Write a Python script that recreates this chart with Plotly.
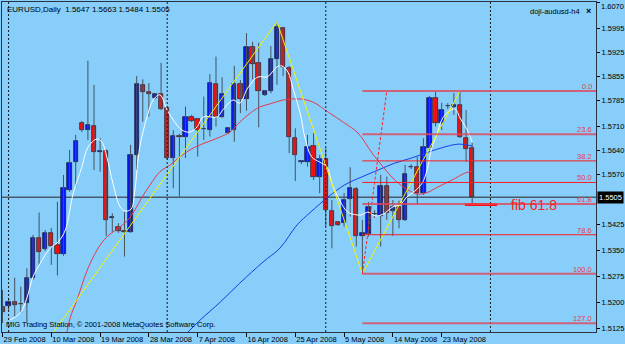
import plotly.graph_objects as go

# ---------------- data ----------------
bars = list(range(78))
opens = [1.5188, 1.5190, 1.5202, 1.5196, 1.5198, 1.5270, 1.5386, 1.5355, 1.5401, 1.5367,
         1.5340, 1.5526, 1.5606, 1.5720, 1.5700, 1.5712, 1.5637, 1.5640, 1.5446, 1.5420,
         1.5407, 1.5405, 1.5628, 1.5831, 1.5809, 1.5792, 1.5804, 1.5763, 1.5620, 1.5683,
         1.5679, 1.5739, 1.5731, 1.5703, 1.5700, 1.5833, 1.5739, 1.5692, 1.5700, 1.5833,
         1.5791, 1.5942, 1.5894, 1.5802, 1.5814, 1.5905, 1.5995, 1.5879, 1.5676, 1.5608,
         1.5608, 1.5654, 1.5563, 1.5615, 1.5466, 1.5432, 1.5430, 1.5499, 1.5530, 1.5393,
         1.5399, 1.5456, 1.5451, 1.5538, 1.5466, 1.5478, 1.5439, 1.5593, 1.5592, 1.5518,
         1.5647, 1.5792, 1.5720, 1.5769, 1.5768, 1.5773, 1.5676, 1.5647]
highs = [1.5236, 1.5213, 1.5272, 1.5246, 1.5299, 1.5396, 1.5461, 1.5410, 1.5416, 1.5492,
         1.5570, 1.5642, 1.5686, 1.5726, 1.5901, 1.5831, 1.5676, 1.5644, 1.5459, 1.5430,
         1.5463, 1.5657, 1.5857, 1.5847, 1.5836, 1.5807, 1.5895, 1.5768, 1.5700, 1.5689,
         1.5768, 1.5744, 1.5735, 1.5797, 1.5862, 1.5913, 1.5853, 1.5709, 1.5886, 1.5845,
         1.5981, 1.5956, 1.5953, 1.5816, 1.5944, 1.6014, 1.5999, 1.5886, 1.5705, 1.5613,
         1.5686, 1.5691, 1.5628, 1.5647, 1.5497, 1.5436, 1.5517, 1.5592, 1.5535, 1.5439,
         1.5491, 1.5468, 1.5570, 1.5565, 1.5497, 1.5495, 1.5599, 1.5601, 1.5622, 1.5676,
         1.5799, 1.5811, 1.5779, 1.5778, 1.5807, 1.5813, 1.5758, 1.5663]
lows = [1.5140, 1.5178, 1.5159, 1.5169, 1.5140, 1.5265, 1.5309, 1.5349, 1.5309, 1.5278,
        1.5335, 1.5521, 1.5536, 1.5694, 1.5671, 1.5584, 1.5579, 1.5393, 1.5405, 1.5402,
        1.5333, 1.5402, 1.5584, 1.5724, 1.5739, 1.5789, 1.5758, 1.5613, 1.5531, 1.5507,
        1.5619, 1.5723, 1.5623, 1.5671, 1.5681, 1.5710, 1.5736, 1.5689, 1.5666, 1.5749,
        1.5756, 1.5847, 1.5708, 1.5799, 1.5807, 1.5831, 1.5857, 1.5633, 1.5552, 1.5601,
        1.5594, 1.5555, 1.5517, 1.5420, 1.5357, 1.5422, 1.5420, 1.5449, 1.5362, 1.5283,
        1.5391, 1.5445, 1.5362, 1.5439, 1.5393, 1.5415, 1.5436, 1.5587, 1.5483, 1.5512,
        1.5642, 1.5710, 1.5700, 1.5761, 1.5744, 1.5677, 1.5608, 1.5484]
closes = [1.5173, 1.5202, 1.5193, 1.5196, 1.5270, 1.5386, 1.5347, 1.5401, 1.5365, 1.5340,
          1.5531, 1.5605, 1.5668, 1.5700, 1.5715, 1.5635, 1.5637, 1.5439, 1.5446, 1.5408,
          1.5404, 1.5628, 1.5833, 1.5811, 1.5805, 1.5804, 1.5760, 1.5620, 1.5683, 1.5679,
          1.5737, 1.5726, 1.5700, 1.5703, 1.5837, 1.5739, 1.5804, 1.5705, 1.5833, 1.5791,
          1.5942, 1.5891, 1.5814, 1.5814, 1.5905, 1.6000, 1.5882, 1.5679, 1.5628, 1.5608,
          1.5652, 1.5563, 1.5615, 1.5468, 1.5423, 1.5425, 1.5497, 1.5533, 1.5394, 1.5402,
          1.5478, 1.5456, 1.5538, 1.5460, 1.5478, 1.5439, 1.5572, 1.5593, 1.5518, 1.5650,
          1.5792, 1.5720, 1.5758, 1.5769, 1.5773, 1.5679, 1.5644, 1.5505]

date_tick_bars = [0, 8, 16, 24, 32, 40, 48, 56, 64, 72]
date_labels = ["29 Feb 2008", "10 Mar 2008", "19 Mar 2008", "28 Mar 2008", "7 Apr 2008",
               "16 Apr 2008", "25 Apr 2008", "5 May 2008", "14 May 2008", "23 May 2008"]
price_ticks = [1.6070, 1.5995, 1.5925, 1.5855, 1.5785, 1.5710, 1.5640, 1.5570,
               1.5425, 1.5350, 1.5275, 1.5200, 1.5125]

white_x = [1.2, 2.9, 4.0, 5.0, 6.2, 7.8, 9.1, 10.3, 11.6, 13.0, 14.0, 15.5, 16.3, 17.1, 18.1,
           19.3, 20.1, 21.1, 21.7, 22.5, 23.7, 24.7, 25.8, 27.0, 28.0, 29.4, 30.7, 31.9, 32.9,
           35.2, 36.1, 37.8, 38.9, 40.2, 41.9, 43.4, 45.0, 45.8, 46.8, 47.6, 48.8, 49.6, 50.7,
           52.0, 53.2, 54.0, 55.0, 56.6, 58.1, 58.9, 59.9, 61.1, 62.4, 64.0, 65.2, 66.3, 67.6,
           68.8, 69.6, 70.4, 71.2, 72.0, 73.0, 74.2, 75.0, 76.2, 77.0]
white_y = [1.5149, 1.5169, 1.5213, 1.5274, 1.5314, 1.5357, 1.5375, 1.5410, 1.5517, 1.5592,
           1.5650, 1.5674, 1.5665, 1.5622, 1.5546, 1.5477, 1.5465, 1.5471, 1.5526, 1.5650,
           1.5738, 1.5787, 1.5802, 1.5758, 1.5729, 1.5700, 1.5694, 1.5709, 1.5738, 1.5738,
           1.5758, 1.5787, 1.5778, 1.5822, 1.5854, 1.5854, 1.5883, 1.5886, 1.5868, 1.5822,
           1.5749, 1.5677, 1.5622, 1.5607, 1.5593, 1.5546, 1.5506, 1.5462, 1.5454, 1.5454,
           1.5462, 1.5451, 1.5456, 1.5477, 1.5483, 1.5506, 1.5523, 1.5546, 1.5584, 1.5650,
           1.5686, 1.5729, 1.5752, 1.5761, 1.5735, 1.5700, 1.5665]

red_x = [10.3, 11.1, 12.2, 13.9, 15.5, 17.1, 18.8, 20.4, 21.7, 22.9, 24.2, 25.8, 27.5, 29.1,
         30.7, 32.4, 34.0, 35.7, 37.3, 38.9, 40.6, 42.2, 43.9, 46.0, 48.8, 50.9, 53.4, 56.1,
         58.3, 60.6, 62.4, 64.3, 66.5, 68.1, 69.8, 71.4, 73.7, 75.8, 77.0]
red_y = [1.5091, 1.5155, 1.5207, 1.5294, 1.5352, 1.5390, 1.5413, 1.5436, 1.5468, 1.5506,
         1.5541, 1.5579, 1.5599, 1.5622, 1.5642, 1.5657, 1.5668, 1.5680, 1.5694, 1.5723,
         1.5749, 1.5767, 1.5776, 1.5787, 1.5790, 1.5781, 1.5752, 1.5720, 1.5691, 1.5633,
         1.5593, 1.5555, 1.5526, 1.5514, 1.5520, 1.5535, 1.5555, 1.5575, 1.5581]

blue_x = [30.4, 32.4, 35.7, 38.9, 42.7, 45.5, 48.3, 50.4, 53.4, 56.1, 58.9, 61.6, 64.3, 67.1,
          69.8, 72.5, 74.7, 77.0]
blue_y = [1.5114, 1.5149, 1.5201, 1.5256, 1.5317, 1.5358, 1.5425, 1.5460, 1.5506, 1.5541,
          1.5564, 1.5584, 1.5604, 1.5619, 1.5636, 1.5651, 1.5659, 1.5654]

zigzag_x = [7, 45, 59, 75]
zigzag_y = [1.5080, 1.6014, 1.5283, 1.5813]

fib_anchor_x = [59, 63]
fib_anchor_y = [1.5283, 1.5813]
fib_levels = [0.0, 23.6, 38.2, 50.0, 61.8, 78.6, 100.0, 127.0]
fib_strong = [False, False, True, True, False, True, False, False]

separator_bars = [1, 27, 53, 80]
bid_price = 1.5505
mark_x = [75.8, 81.1]
mark_price = 1.5484
mark_label_x = 83.0

header = "EURUSD,Daily  1.5647 1.5663 1.5484 1.5505"
indicator_name = "doji-audusd-h4"
copyright_text = "MIG Trading Station, © 2001-2008 MetaQuotes Software Corp."

# ---------------- styling ----------------
BG = "#87CEFA"
FONT = "Liberation Sans, Arial, sans-serif"
X_RANGE = [-0.082, 97.3]
Y_RANGE = [1.51143, 1.60713]

fig = go.Figure()

# wicks
wx, wy = [], []
for i, h, l in zip(bars, highs, lows):
    wx += [i, i, None]
    wy += [l, h, None]
fig.add_trace(go.Scatter(x=wx, y=wy, mode="lines", line=dict(color="#44525f", width=1),
                         hoverinfo="skip"))

# bodies
MIN_BODY = 0.00008
for up, fill in [(True, "#0818ff"), (False, "#ff1010")]:
    xs, base, hgt = [], [], []
    for i, o, c in zip(bars, opens, closes):
        if (c >= o) == up:
            xs.append(i)
            base.append(min(o, c))
            hgt.append(max(abs(c - o), MIN_BODY))
    fig.add_trace(go.Bar(x=xs, y=hgt, base=base, width=0.72,
                         marker=dict(color=fill, line=dict(color="#1a1a24", width=0.7)),
                         hoverinfo="skip"))

# moving averages
fig.add_trace(go.Scatter(x=blue_x, y=blue_y, mode="lines", line=dict(color="#1c3ce8", width=1, shape="spline")))
fig.add_trace(go.Scatter(x=red_x, y=red_y, mode="lines", line=dict(color="#e8384a", width=1, shape="spline")))
fig.add_trace(go.Scatter(x=white_x, y=white_y, mode="lines", line=dict(color="#ffffff", width=1, shape="spline")))
# zigzag
fig.add_trace(go.Scatter(x=zigzag_x, y=zigzag_y, mode="lines", line=dict(color="#f4f400", width=1)))
# fibo diagonal
fig.add_trace(go.Scatter(x=fib_anchor_x, y=fib_anchor_y, mode="lines",
                         line=dict(color="#ff2020", width=1, dash="3px,2px")))
# low marker segment
fig.add_trace(go.Scatter(x=mark_x, y=[mark_price, mark_price], mode="lines",
                         line=dict(color="#ff1010", width=3)))

shapes = []
# bid line
shapes.append(dict(type="line", xref="paper", x0=0, x1=1, yref="y", y0=bid_price, y1=bid_price,
                   line=dict(color="#4a5a6a", width=1.5), layer="below"))
# separators
for s in separator_bars:
    shapes.append(dict(type="line", xref="x", x0=s, x1=s, yref="paper", y0=0, y1=1,
                       line=dict(color="#1a1a1a", width=1, dash="2px,2px")))
# fib levels
annotations = []
lo, hi = fib_anchor_y
for lvl, strong in zip(fib_levels, fib_strong):
    price = hi - (hi - lo) * lvl / 100.0
    if strong:
        ln = dict(color="#ff1a1a", width=1)
    else:
        ln = dict(color="rgba(225,70,90,0.8)", width=2)
    shapes.append(dict(type="line", xref="x", x0=fib_anchor_x[0], x1=X_RANGE[1], yref="y",
                       y0=price, y1=price, line=ln))
    annotations.append(dict(xref="paper", x=1, xanchor="right", xshift=-2, yref="y", y=price,
                            yanchor="bottom", yshift=-2, text=f"{lvl:.1f}", showarrow=False,
                            font=dict(family=FONT, size=7.5, color="#e83c4c")))

# top price label: drawn as annotation so it is not clipped at the page edge
tick_text = [f"{p:.4f}" for p in price_ticks]
top_label = tick_text[0]
tick_text[0] = ""

annotations += [
    dict(xref="paper", x=1, xanchor="left", xshift=3, yref="paper", y=1, yanchor="top", yshift=2,
         text=top_label, showarrow=False, font=dict(family=FONT, size=7.5, color="#000000")),
    dict(xref="x", x=mark_label_x, xanchor="left", yref="y", y=mark_price, yanchor="middle",
         text="fib 61.8", showarrow=False, font=dict(family=FONT, size=14, color="#ff2020")),
    dict(xref="paper", x=1, xanchor="left", xshift=1, yref="y", y=bid_price, yanchor="middle",
         text=f"{bid_price:.4f}", showarrow=False, bgcolor="#000000", borderpad=1,
         font=dict(family=FONT, size=7.5, color="#ffffff")),
    dict(xref="paper", x=0, xanchor="left", xshift=3, yref="paper", y=1, yanchor="top", yshift=-1,
         text=header, showarrow=False, font=dict(family=FONT, size=8, color="#000000")),
    dict(xref="paper", x=1, xanchor="right", xshift=-14, yref="paper", y=1, yanchor="top", yshift=-3,
         text=indicator_name, showarrow=False, font=dict(family=FONT, size=7.5, color="#000000")),
    dict(xref="paper", x=1, xanchor="right", xshift=-3, yref="paper", y=1, yanchor="top", yshift=-2,
         text="<b>×</b>", showarrow=False, font=dict(family=FONT, size=9, color="#000000")),
    dict(xref="paper", x=0, xanchor="left", xshift=2, yref="paper", y=0, yanchor="bottom", yshift=1,
         text=copyright_text, showarrow=False, font=dict(family=FONT, size=7.5, color="#000000")),
]

fig.update_layout(
    width=625, height=344,
    margin=dict(l=2, r=29, t=2, b=12),
    paper_bgcolor=BG, plot_bgcolor=BG,
    showlegend=False, barmode="overlay", bargap=0,
    shapes=shapes, annotations=annotations,
    xaxis=dict(range=X_RANGE, tickmode="array", tickvals=date_tick_bars, ticktext=date_labels,
               ticks="outside", ticklen=4, tickcolor="#000000", ticklabelposition="outside right",
               tickangle=0, automargin=False, ticklabeloverflow="allow",
               tickfont=dict(family=FONT, size=7.5, color="#000000"),
               showgrid=False, zeroline=False, showline=True, linecolor="#2a3440", linewidth=1,
               mirror=True, fixedrange=True),
    yaxis=dict(range=Y_RANGE, side="right", tickmode="array", tickvals=price_ticks,
               ticktext=tick_text, automargin=False,
               ticklabeloverflow="allow",
               ticks="outside", ticklen=3, tickcolor="#000000",
               tickfont=dict(family=FONT, size=7.5, color="#000000"),
               showgrid=False, zeroline=False, showline=True, linecolor="#2a3440", linewidth=1,
               mirror=True, fixedrange=True),
)

fig.write_html("out.html")
